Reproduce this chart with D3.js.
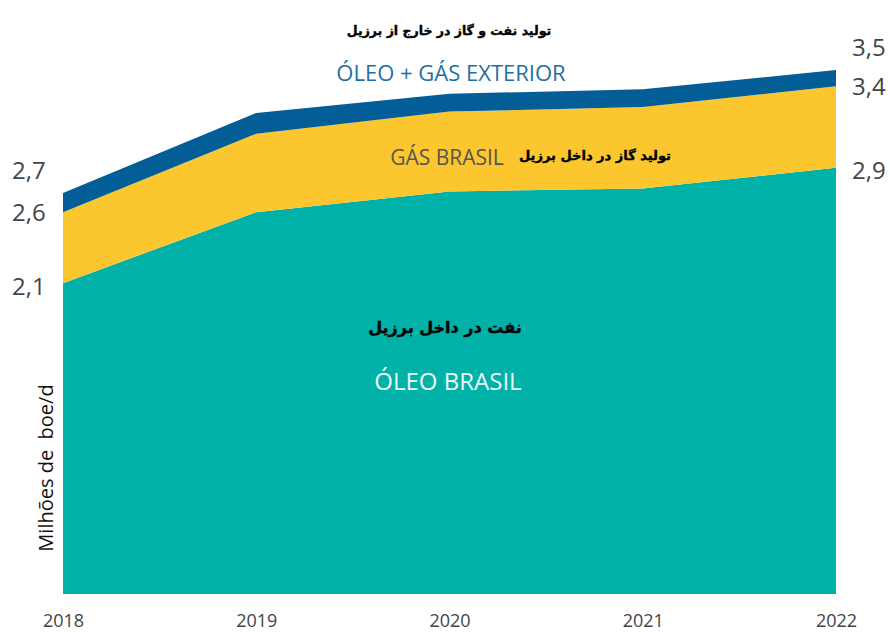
<!DOCTYPE html>
<html>
<head>
<meta charset="utf-8">
<script src="https://cdn.jsdelivr.net/npm/d3@7"></script>
<style>
  body { margin: 0; background: #fff; }
  .num { font-family: 'Liberation Sans Narrow', 'Open Sans', sans-serif; fill: #444; }
  .fa { font-family: 'DejaVu Sans', sans-serif; font-weight: bold; fill: #000; stroke: #000; stroke-width: 0.4px; }
  .lbl { font-family: 'Open Sans', sans-serif; }
</style>
</head>
<body>
<div id="chart"></div>
<script>
// Data (millions boe/d)
var years = [2018, 2019, 2020, 2021, 2022];
var oleoBrasil = [2.10, 2.58, 2.72, 2.74, 2.88];
var gasBrasil = [0.48, 0.53, 0.54, 0.55, 0.55];
var exterior = [0.13, 0.14, 0.12, 0.12, 0.11];
var leftTicks = ["2,1", "2,6", "2,7"];
var rightTicks = ["2,9", "3,4", "3,5"];
var keys = ["oleo", "gas", "ext"];

(function() {
  var width = 890, height = 633

  var svg = d3.select("#chart")
    .append("svg")
    .attr("width", width)
    .attr("height", height)

  var rows = years.map(function(y, i) {
    return {year: y, oleo: oleoBrasil[i], gas: gasBrasil[i], ext: exterior[i]}
  })

  var xPositionScale = d3.scaleLinear()
    .domain([2018, 2022])
    .range([63, 836])

  var yPositionScale = d3.scaleLinear()
    .domain([0, 3.6])
    .range([594, 61.2])

  var colors = {oleo: "#00b1a7", gas: "#fcc62f", ext: "#035d97"}

  var stacked = d3.stack().keys(keys)(rows)

  var area = d3.area()
    .x(function(d) { return xPositionScale(d.data.year) })
    .y0(function(d) { return yPositionScale(d[0]) })
    .y1(function(d) { return yPositionScale(d[1]) })

  svg.selectAll(".layer")
    .data(stacked)
    .enter().append("path")
    .attr("class", "layer")
    .attr("d", area)
    .attr("fill", function(d) { return colors[d.key] })

  // end labels (top one nudged up so they don't collide)
  var nudge = [3, 0, -22]
  stacked.forEach(function(s, i) {
    svg.append("text")
      .attr("class", "num")
      .attr("x", 12)
      .attr("y", yPositionScale(s[0][1]) + nudge[i])
      .attr("dy", "0.35em")
      .style("font-size", "24px")
      .text(leftTicks[i])
    svg.append("text")
      .attr("class", "num")
      .attr("x", 852)
      .attr("y", yPositionScale(s[s.length - 1][1]) + nudge[i])
      .attr("dy", "0.35em")
      .style("font-size", "24px")
      .text(rightTicks[i])
  })

  // x axis labels
  var xAxis = d3.axisBottom(xPositionScale)
    .tickValues(years)
    .tickFormat(d3.format("d"))
    .tickSize(0)
    .tickPadding(0)

  var gx = svg.append("g")
    .attr("transform", "translate(0,614)")
    .call(xAxis)
  gx.select(".domain").remove()
  gx.selectAll("text")
    .attr("class", "num")
    .attr("dy", "0.7em")
    .style("font-size", "18px")

  // y axis title
  svg.append("text")
    .attr("class", "lbl")
    .attr("transform", "translate(53,468) rotate(-90)")
    .attr("text-anchor", "middle")
    .style("font-size", "20px")
    .style("white-space", "pre")
    .style("fill", "#111")
    .text("Milhões de  boe/d")

  // series labels
  svg.append("text").attr("class", "fa")
    .attr("x", 449).attr("y", 35).attr("text-anchor", "middle")
    .style("font-size", "12.5px")
    .text("تولید نفت و گاز در خارج از برزیل")

  svg.append("text").attr("class", "lbl")
    .attr("x", 451).attr("y", 81).attr("text-anchor", "middle")
    .style("font-size", "22px").style("fill", "#1e6fa5")
    .text("ÓLEO + GÁS EXTERIOR")

  svg.append("text").attr("class", "lbl")
    .attr("x", 447).attr("y", 165).attr("text-anchor", "middle")
    .style("font-size", "21px").style("fill", "#555")
    .text("GÁS BRASIL")

  svg.append("text").attr("class", "fa")
    .attr("x", 595).attr("y", 160).attr("text-anchor", "middle")
    .style("font-size", "13px")
    .text("تولید گاز در داخل برزیل")

  svg.append("text").attr("class", "fa")
    .attr("x", 445).attr("y", 333).attr("text-anchor", "middle")
    .style("font-size", "16px")
    .text("نفت در داخل برزیل")

  svg.append("text").attr("class", "lbl")
    .attr("x", 448).attr("y", 390).attr("text-anchor", "middle")
    .style("font-size", "24px").style("fill", "#eef8f6")
    .text("ÓLEO BRASIL")
})();
</script>
</body>
</html>
